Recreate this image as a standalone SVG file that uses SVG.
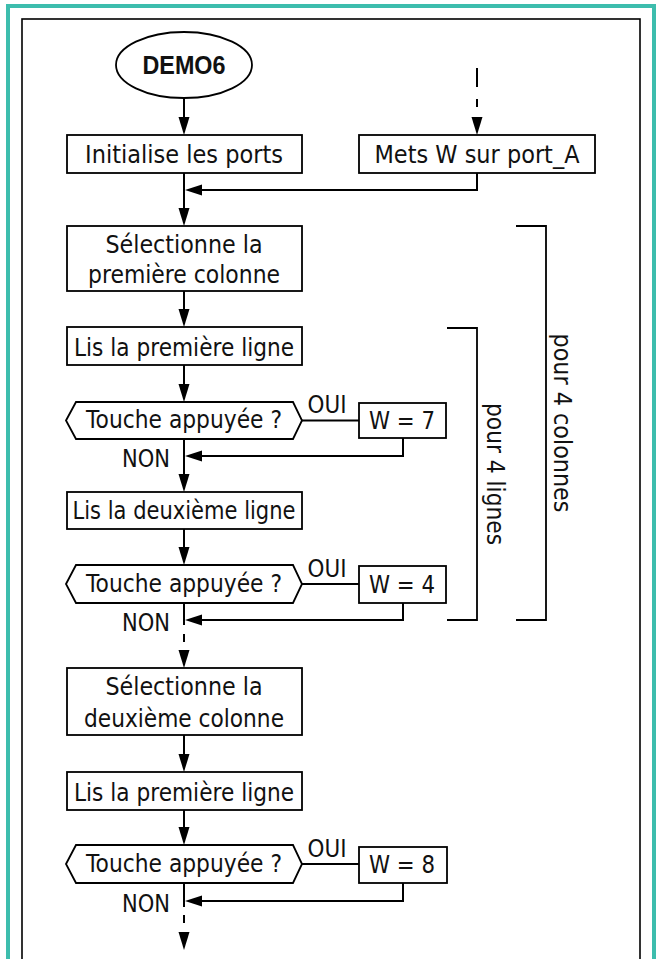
<svg xmlns="http://www.w3.org/2000/svg" xmlns:xlink="http://www.w3.org/1999/xlink" width="658" height="959" viewBox="0 0 658 959">
<style>
.box{fill:#fff;stroke:#000;stroke-width:1.8}
.ln{fill:none;stroke:#000;stroke-width:2}
.br{fill:none;stroke:#000;stroke-width:1.8}
.t{font-family:"DejaVu Sans","Liberation Sans",sans-serif;font-size:24.5px;fill:#111;text-anchor:middle}
.s{font-family:"DejaVu Sans","Liberation Sans",sans-serif;font-size:24px;fill:#111;text-anchor:middle}
.b{font-family:"Liberation Sans",Arial,sans-serif;font-size:25px;font-weight:bold;fill:#111;text-anchor:middle}
</style>
<defs>
<path id="ad" d="M-5.5,-18 L5.5,-18 L0,0 Z" fill="#000"/>
<path id="al" d="M0,0 L17,-5.5 L17,5.5 Z" fill="#000"/>
</defs>
<rect x="0" y="0" width="658" height="959" fill="#fff"/>
<rect x="8" y="6" width="646" height="1000" fill="none" stroke="#3dbdad" stroke-width="4"/>
<rect x="22" y="19" width="618" height="1000" fill="none" stroke="#000" stroke-width="1.6"/>

<g id="connectors">
<line class="ln" x1="184" y1="98" x2="184" y2="118"/>
<use xlink:href="#ad" x="184" y="135"/>
<line class="ln" x1="184" y1="173" x2="184" y2="209"/>
<use xlink:href="#ad" x="184" y="226"/>
<line class="ln" x1="477" y1="68" x2="477" y2="87"/>
<line class="ln" x1="477" y1="99" x2="477" y2="107"/>
<use xlink:href="#ad" x="477" y="135"/>
<polyline class="ln" points="477,173 477,190 200,190"/>
<use xlink:href="#al" x="185" y="190"/>
<line class="ln" x1="184" y1="291" x2="184" y2="310"/>
<use xlink:href="#ad" x="184" y="327"/>
<line class="ln" x1="184" y1="365" x2="184" y2="385"/>
<use xlink:href="#ad" x="184" y="402"/>
<line class="ln" x1="302" y1="420.5" x2="359" y2="420.5"/>
<polyline class="ln" points="403,438 403,456 200,456"/>
<use xlink:href="#al" x="185" y="456"/>
<line class="ln" x1="184" y1="439" x2="184" y2="475"/>
<use xlink:href="#ad" x="184" y="492"/>
<line class="ln" x1="184" y1="529" x2="184" y2="548"/>
<use xlink:href="#ad" x="184" y="565"/>
<line class="ln" x1="302" y1="584" x2="359" y2="584"/>
<polyline class="ln" points="403,603 403,620 200,620"/>
<use xlink:href="#al" x="185" y="620"/>
<line class="ln" x1="184" y1="603" x2="184" y2="625"/>
<line class="ln" x1="184" y1="634" x2="184" y2="642"/>
<use xlink:href="#ad" x="184" y="668"/>
<line class="ln" x1="184" y1="735" x2="184" y2="755"/>
<use xlink:href="#ad" x="184" y="772"/>
<line class="ln" x1="184" y1="810" x2="184" y2="828"/>
<use xlink:href="#ad" x="184" y="845"/>
<line class="ln" x1="302" y1="864" x2="359" y2="864"/>
<polyline class="ln" points="403,883 403,901 200,901"/>
<use xlink:href="#al" x="185" y="901"/>
<line class="ln" x1="184" y1="883" x2="184" y2="907"/>
<line class="ln" x1="184" y1="915" x2="184" y2="923"/>
<use xlink:href="#ad" x="184" y="950"/>
</g>

<g id="start">
<ellipse cx="184" cy="65" rx="68" ry="33" class="box"/>
<text class="b" x="184" y="74" textLength="83" lengthAdjust="spacingAndGlyphs">DEMO6</text>
</g>
<g id="init">
<rect class="box" x="67" y="135" width="235" height="38"/>
<text class="t" x="184" y="163" textLength="198" lengthAdjust="spacingAndGlyphs">Initialise les ports</text>
</g>
<g id="mets">
<rect class="box" x="359" y="135" width="236" height="38"/>
<text class="t" x="477" y="163" textLength="205" lengthAdjust="spacingAndGlyphs">Mets W sur port_A</text>
</g>
<g id="sel1">
<rect class="box" x="67" y="226" width="235" height="65"/>
<text class="t" x="184" y="253" textLength="157" lengthAdjust="spacingAndGlyphs">Sélectionne la</text>
<text class="t" x="184" y="283" textLength="192" lengthAdjust="spacingAndGlyphs">première colonne</text>
</g>
<g id="lis1">
<rect class="box" x="67" y="327" width="235" height="38"/>
<text class="t" x="184" y="356" textLength="220" lengthAdjust="spacingAndGlyphs">Lis la première ligne</text>
</g>
<g id="test1">
<polygon class="box" points="66,420.5 76,402 293,402 302,420.5 293,439 76,439"/>
<text class="t" x="184" y="428" textLength="196" lengthAdjust="spacingAndGlyphs">Touche appuyée ?</text>
<text class="s" x="327" y="413" textLength="39" lengthAdjust="spacingAndGlyphs">OUI</text>
<text class="s" x="146" y="467" textLength="48" lengthAdjust="spacingAndGlyphs">NON</text>
</g>
<g id="w7">
<rect class="box" x="359" y="403" width="87" height="35"/>
<text class="t" x="402" y="429" textLength="66" lengthAdjust="spacingAndGlyphs">W = 7</text>
</g>
<g id="lis2">
<rect class="box" x="67" y="492" width="235" height="37"/>
<text class="t" x="184" y="519" textLength="223" lengthAdjust="spacingAndGlyphs">Lis la deuxième ligne</text>
</g>
<g id="test2">
<polygon class="box" points="66,584 76,565 293,565 302,584 293,603 76,603"/>
<text class="t" x="184" y="592" textLength="196" lengthAdjust="spacingAndGlyphs">Touche appuyée ?</text>
<text class="s" x="327" y="577" textLength="39" lengthAdjust="spacingAndGlyphs">OUI</text>
<text class="s" x="146" y="631" textLength="48" lengthAdjust="spacingAndGlyphs">NON</text>
</g>
<g id="w4">
<rect class="box" x="359" y="566" width="87" height="37"/>
<text class="t" x="402" y="593" textLength="66" lengthAdjust="spacingAndGlyphs">W = 4</text>
</g>
<g id="sel2">
<rect class="box" x="67" y="668" width="235" height="67"/>
<text class="t" x="184" y="695" textLength="157" lengthAdjust="spacingAndGlyphs">Sélectionne la</text>
<text class="t" x="184" y="727" textLength="200" lengthAdjust="spacingAndGlyphs">deuxième colonne</text>
</g>
<g id="lis3">
<rect class="box" x="67" y="772" width="235" height="38"/>
<text class="t" x="184" y="801" textLength="220" lengthAdjust="spacingAndGlyphs">Lis la première ligne</text>
</g>
<g id="test3">
<polygon class="box" points="66,864 76,845 293,845 302,864 293,883 76,883"/>
<text class="t" x="184" y="872" textLength="196" lengthAdjust="spacingAndGlyphs">Touche appuyée ?</text>
<text class="s" x="327" y="857" textLength="39" lengthAdjust="spacingAndGlyphs">OUI</text>
<text class="s" x="146" y="912" textLength="48" lengthAdjust="spacingAndGlyphs">NON</text>
</g>
<g id="w8">
<rect class="box" x="359" y="847" width="88" height="36"/>
<text class="t" x="402" y="873" textLength="66" lengthAdjust="spacingAndGlyphs">W = 8</text>
</g>
<g id="loop-lignes">
<polyline class="br" points="447,328 477,328 477,620 447,620"/>
<text class="t" transform="translate(487,474) rotate(90)" textLength="142" lengthAdjust="spacingAndGlyphs">pour 4 lignes</text>
</g>
<g id="loop-colonnes">
<polyline class="br" points="516,226 546,226 546,620 516,620"/>
<text class="t" transform="translate(554,423) rotate(90)" textLength="179" lengthAdjust="spacingAndGlyphs">pour 4 colonnes</text>
</g>
</svg>
